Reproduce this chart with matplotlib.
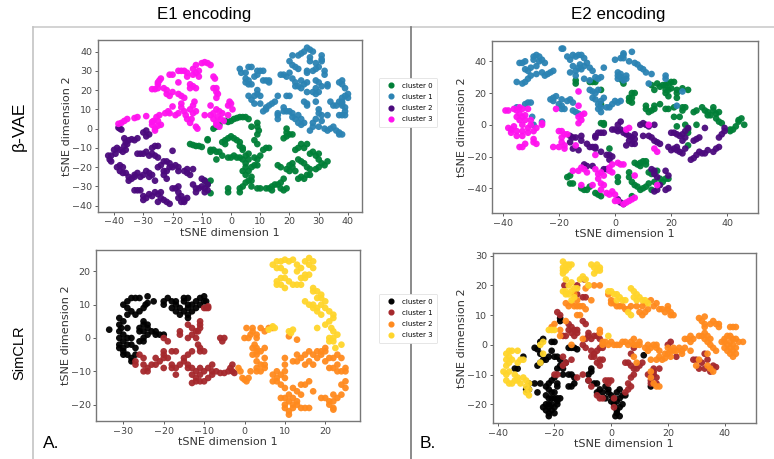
import matplotlib
matplotlib.use("Agg")
import matplotlib.pyplot as plt
from matplotlib.lines import Line2D

# Values, one list of (x, y) per cluster.
vae_e1_c0 = [(-6,0),(-5,1),(-4,2),(-2,4),(-1,3.5),(0,4),(1,5),(2,5.5),(3,6),(4,6),(5,6),(6,5),(7,1),(9,3),(9,1),(9.5,-1),(9,-3),(8,-6),(9,-8),(11,-11),(12,-10),(13,-10),(-14,-8),(-13,-8.5),(-12,-9),(-11,-9),(-10,-9.5),(-8,-6),(-8,-5.5),(-7,-11),(-7,-12),(-6,-11),(-5,-12),(-4,-12),(-3,-14),(-5,-16),(-2,-8),(-3,-7),(-2,-6),(-1,-5),(0,-4),(1,-5),(2,-6),(3,-7),(3,-9),(4,-10),(4,-11),(-1,-15),(0,-15),(1,-14),(2,-15),(3,-15),(4,-16),(5,-14),(6,-13),(6,-16),(5,-18),(5,-20),(4,-22),(5,-24),(6,-22),(7,-25),(6,-27),(7,-27),(5,-28),(4,-30),(3,-31),(3,-33),(8,-15),(9,-16),(10,-14),(9,-19),(8,-19),(7,-20),(7,-30),(9,-31),(10,-31),(-1,-31),(-1,-33),(12,-31),(13,-31),(14,-32),(14,-30),(15,-29),(16,-29),(17,-28),(18,-26),(17,-31),(18,-32),(19,-31),(16,-19),(17,-20),(19,-21),(20,-19),(20,-22),(21,-18),(21,-20),(22,-22),(23,-26),(24,-25),(25,-26),(26,-24),(27,-24),(23,-16),(24,-17),(25,-18),(26,-20),(27,-21),(22,-11),(23,-10),(24,-8),(25,-10),(26,-8),(27,-13),(28,-12),(29,-14),(30,-13),(30,-16),(31,-18),(30,-20),(29,-21),(32,-19),(33,-17),(19,-2),(19,0),(19,-4),(18,-5),(20,-3),(21,-3),(-9,-27),(-8,-28),(-7,-27),(-7,-33.5),(-8,-29)]
vae_e1_c1 = [(3,31),(3.5,29),(5,29),(5,26),(5,24),(6,23),(6,25),(7,23),(6,32),(7,32),(8,27),(9,30),(9,28),(10,30),(11,30),(11,25),(12,25),(13,24),(13,25),(9,20),(9,18),(8,17),(6,17),(7,15),(8,13),(10,13),(10,17),(12,10),(12,11),(13,12),(14,13),(15,14),(11,9),(16,5),(16,8),(16,7),(18,9),(18,11),(19,9),(20,9),(21,8),(21,6),(22,5),(23,7),(24,5),(23,3),(24,2),(25,3),(16,17),(19,17),(20,17),(17,28),(18,28),(19,27),(20,29),(21,26),(22,24),(22,22),(23,22),(24,21),(25,23),(26,24),(24,25),(20,35),(21,33),(22,32),(23,31),(21,38),(23,38),(24,39),(25,40),(26,42),(27,41),(28,40),(27,37),(27,35),(26,30),(26,29),(28,30),(29,31),(30,32),(29,34),(31,35),(31,38),(31,36),(32,30),(32,28),(33,23),(33,22),(31,22),(30,24),(29,25),(29,21),(30,19),(29,18),(28,19),(26,19),(25,14),(26,12),(26,13),(29,14),(30,10),(30,8),(31,7),(33,7),(31,4),(29,5),(28,3),(28,1),(27,-1),(30,1),(32,0),(33,-1),(34,0),(35,1),(36,-1),(37,-2),(38,-3),(37,-3),(34,14),(35,12),(36,12),(37,14),(38,14),(38,12),(39,11),(39,9),(39,7),(38,7),(37,7),(37,24),(38,25),(38,23),(39,21),(40,18),(39,17),(38,16),(40,16),(38,13)]
vae_e1_c2 = [(-38.5,0.5),(-37.5,-0.5),(-38,0),(-36.5,-5),(-36,-7),(-36.5,-9),(-35.5,-8),(-35,-6),(-36,-11),(-37,-12),(-38,-11),(-39,-10),(-40,-11),(-39.5,-13),(-41,-14),(-42,-14),(-41.5,-16),(-41,-17),(-38,-19),(-39,-20),(-38,-22),(-37,-20),(-37,-23),(-36,-23),(-35,-25),(-35,-27),(-34,-5.5),(-33,-6),(-32,-5),(-30,-2),(-29,-1),(-28,-3),(-29,-4),(-31,-13),(-32,-13),(-30,-13),(-29,-12),(-28,-14),(-27,-13),(-27,-10),(-26,-9),(-25,-9),(-26,-14),(-25,-15),(-20,-11.5),(-33,-25),(-34,-26),(-33,-24),(-32,-23),(-31,-25),(-30,-24),(-29,-22),(-28,-23),(-28,-25),(-27,-24),(-26,-27),(-25,-20),(-24,-19),(-23,-17),(-22,-17),(-21,-18),(-21,-20),(-22,-22),(-23,-22),(-23,-24),(-22,-26),(-20,-20),(-19,-19),(-18,-20),(-18,-22),(-16,-22),(-15,-21),(-15,-23),(-14,-24),(-13,-21),(-33,-32),(-32,-32),(-31,-32),(-30,-35),(-30,-37),(-29,-36),(-28,-34),(-27,-35),(-26,-33),(-25,-34),(-24,-33),(-24,-36),(-23,-37),(-22,-38),(-21,-39),(-25,-38),(-20,-31),(-19,-31),(-18,-30),(-18,-33),(-18,-36),(-17,-35),(-17,-38),(-16,-37),(-16,-38),(-15,-36),(-13,-29),(-12,-31),(-12,-33),(-11,-31),(-10,-30),(-10,-26),(-9,-27),(-8,-29),(-9,-31),(-8,-32),(-9,-33)]
vae_e1_c3 = [(-38.5,2.5),(-37.5,3),(-36.5,4),(-35.5,5),(-33,5.5),(-32,6),(-29,6.5),(-27,2),(-26.5,4),(-26,0),(-27,3.5),(-25.5,6),(-25,4),(-24.5,7),(-26,-1),(-25,1.5),(-24,2),(-22.5,8),(-21.5,9),(-21,8),(-20,11.5),(-19,7),(-18,8),(-17,11),(-17,13),(-16,9),(-15.5,7),(-15,5),(-14,3),(-14,10),(-13.5,5),(-13,12),(-13,8),(-12.5,14),(-12,9),(-12,1),(-11.5,0),(-9,7),(-7,12),(-6,8),(-7,7),(-6,5),(-5,3),(-5,10),(-4.5,6),(-4,9),(-3.5,5),(-3,8),(-2.5,4),(-1,7),(-0.5,14),(-1,12),(0,13),(0.5,10),(-5,2),(-4,1),(-27,20.5),(-26,20.5),(-25,21),(-25,24),(-24.5,25),(-25,23),(-24,26),(-23,21),(-22,20),(-22,18),(-21,17),(-20,19),(-21,28),(-20,28),(-18,18),(-17,17),(-18,24),(-18,30),(-17,30),(-16,16),(-16,30),(-15,29),(-15,27),(-14,23),(-14,21),(-13,22),(-12,21),(-13,28),(-13,31),(-12,33),(-12,29),(-11,30),(-11,27),(-10,34),(-9,34.5),(-8,34),(-7,33),(-6,27),(-5.5,26),(-6,21),(-5,21),(-5,19),(-4.5,18),(-5,16)]

vae_e2_c0 = [(-14,26),(-14,28),(-9,27),(-8,27),(-7,27),(-5,22),(-5,13),(2.5,28),(3,26),(5,15),(5,17),(6,17),(6,20),(7,20),(6,14),(13,25),(14,22),(15,26),(16,24),(17,25),(18,25),(19,26),(20,27),(21,27),(18,22),(18,20),(19,18),(19,22),(20,23),(22,22),(22,17),(22,20),(24,23),(26,22),(11,12),(11,10),(12,8),(13,9),(14,12),(14,10),(16,13),(18,10),(19,10),(21,11),(21,5),(23,5),(24,9),(24,11),(25,11),(28,8),(29,9),(31,11),(32,9),(33,8),(33,6),(34,6),(35,11),(35,9),(36,7),(36,4),(37,8),(37,2),(38,1),(41,-4),(41,-3),(42,-3),(43,-1),(44,2),(44,3),(45,4),(46,0),(-5,1),(-4,1),(-4,0),(-2,-15),(25,0),(22,-1),(26,-3),(26,-5),(29,0),(26,-13),(8,-25),(9,-26),(9,-24),(10,-23),(11,-25),(11,-23),(7,-24),(-17,-33),(-16,-32),(-16,-37),(-15,-37),(-12,-40),(-11,-41),(-10,-41),(-9,-39),(-7,-43),(-6,-44),(-5,-45),(1,-33),(1,-36),(5,-30),(5,-33),(6,-36),(7,-38),(8,-39),(9,-41),(10,-40),(11,-39),(12,-37),(12,-30),(13,-31),(14,-36),(13,-41),(16,-34),(17,-36),(18,-34),(19,-34),(6,-45),(15,-29)]
vae_e2_c1 = [(-35,27),(-34,39),(-33,39),(-32,40),(-32,35),(-31,34),(-32,27),(-33,26),(-31,29),(-30,31),(-30,36),(-29,43),(-28,44),(-28,37),(-28,32),(-27,40),(-26,41),(-25,39),(-24,32),(-25,31),(-23,33),(-22,34),(-29,41),(-27,43),(-26,33),(-19,48),(-18.5,48),(-17,43),(-16,41),(-15,44),(-14,43),(-13,44),(-12,44),(-11,42),(-16,33),(-14,34),(-15,37),(-14,31),(-13,36),(-12,35),(-11,37),(-10,39),(-9,36),(-8,34),(-11,29),(-9,28),(-7,30),(-6,29),(-5,30),(-4,36),(-12.5,38),(-23,16),(-22,17),(-21,18),(-22,15),(-20,13),(-19,12),(-19,10),(-19,16),(-18,10),(-17,15),(-16,16),(-15,14),(-15,9),(-14,8),(-13,7),(-9,22),(-8,21),(-8,17),(-7,20),(-7,16),(-6,22),(-6,13),(-5,11),(-5,8),(-5,15),(-4,17),(-6,10),(-3,11),(-2,11),(-1,13),(0,15),(1,14),(2,15),(-35,11),(-32,13),(-31,14),(-30,14),(-29.5,5),(-26,2),(-29,0),(0,41),(2,42),(3,42),(3,44),(3,45),(6,46),(5,40),(7,39),(8,38),(9,36),(10,35),(11,33),(13,32),(18,31),(18,29),(1,33),(1,31),(1,29),(2,32),(2,30),(4,31),(4,29),(3,28),(12,26),(24,21),(22,12)]
vae_e2_c2 = [(2,2),(1,0),(-1,-3),(0,-3),(1,-4),(2,-3),(3,-5),(4,-6),(5,-7),(5,-10),(6,-8),(7,-6),(7,-9),(6,-12),(4,-13),(7,-12),(9,0),(10,1),(11,0),(12,-1),(14,0),(10,-7),(12,-7),(13,-8),(14,-10),(15,-11),(16,-12),(-7,-7),(-7,-8),(-6,-5),(-5,-5),(-4,-5),(-16,-7),(-15,-8),(-14,-8),(-12,-10),(-12,-7),(-10,-12),(-9,-14),(-8,-14),(-7,-14),(-7,-15),(-5,-17),(-3,-19),(-2,-19),(-1,-20),(-2,-22),(-13,-16),(-16,-11),(-15,-15),(20,-5),(21,-5),(22,-6),(23,-7),(24,-6),(25,-4),(26,-2),(25,-8),(24,-10),(22,-14),(21,-15),(20,-16),(22,-16),(23,-17),(24,-18),(19,-14),(25,-15),(28,-10),(29,-9),(30,-8),(27,-22),(28,-21),(29,-19),(30,-17),(31,-18),(32,-18),(33,-16),(35,-17),(36,-15),(37,-14),(37,-8),(38,-6),(39,-4),(39,-2),(32,-2),(19,-32),(18,-29),(14,-29),(13,-28),(14,-31),(15,-33),(16,-38),(14,-42),(15,-41),(18,-41),(19,-40),(1,-47),(2,-49),(3,-50),(-8,-26),(-11,-25),(-10,-26),(-3,-28),(-4,-28)]
vae_e2_c3 = [(-39,9),(-38,9),(-36,10),(-35,9),(-34,11),(-33,10),(-34,7),(-35,5),(-34,3),(-33,5),(-31,10),(-32,6),(-32,3),(-30,3),(-30,0),(-31,-2),(-33,0),(-38,-2),(-37,-3),(-36,-1),(-35,-4),(-37,-5),(-35,-7),(-33,-4),(-33,-7),(-31,-5),(-29,-4),(-28,-2),(-26,1),(-26,0),(-29,-9),(-29,-11),(-28,-12),(-34,-14),(-33,-14),(-32,-12),(-21,10),(-13,12),(-13,21),(-13,1),(-12,3),(-13,5),(-12,6),(-11,7),(-20,-4),(-19,-4),(-18,-6),(-17,-6),(-19,-8),(-19,-11),(-18,-13),(-22,-14),(-20,-14),(-18,-15),(-14,-13),(-7,-19),(5,-2),(4,-3),(12,0),(14,-15),(15,-17),(-15,-29),(-13,-29),(-12,-27),(-11,-28),(-10,-30),(-7,-28),(-6,-31),(-5,-30),(-4,-32),(-6,-34),(-5,-37),(-4,-38),(-8,-38),(-12,-38),(-5,-41),(-3,-43),(-2,-44),(-1,-42),(0,-44),(0,-48),(1,-48),(3,-50),(4,-49),(5,-48),(6,-47),(7,-46),(-1,-25),(-2,-27),(-2,-29),(-1,-30),(1,-24),(2,-25),(3,-25),(7,-32),(15,-38)]

sim_e1_c0 = [(-33.5,2.5),(-31,4),(-31,6),(-30.5,3),(-31,2),(-31,0),(-31,-2),(-31,-3),(-30,-1),(-30,1),(-30,5),(-30,-3),(-29,0),(-29,-2),(-29,3),(-29,7),(-29,9),(-29,11),(-30,10),(-28,12),(-27,12),(-26,12),(-28,8),(-27,7),(-26,8),(-25,9),(-24.5,10),(-24,10.5),(-24,12.5),(-22.5,11),(-25,5),(-26,3),(-26,2),(-25,4),(-25,2),(-24,3),(-24,4),(-24,1),(-25,0),(-23,2),(-22,1),(-22,2),(-21,1),(-20,1),(-26,-1),(-25,-1),(-28,0),(-28,-2),(-30,-4),(-30,-5),(-28,-6),(-29,-5),(-28,-7),(-27,-5),(-27,-3),(-20,11),(-19,12),(-20,10),(-18,11),(-17,10),(-18,9),(-17,11),(-16,9),(-17,8),(-16,7),(-15,8),(-14,7),(-14,6),(-13,8),(-15,11),(-15,12),(-14,12),(-14,10),(-14,9),(-13,10),(-12,11),(-12,9),(-11,10),(-10,12.5),(-11,12),(-10,11),(-9.5,11)]
sim_e1_c1 = [(-9.5,9),(-9,9.5),(-9,9),(-10,9),(-14,4),(-13,3),(-13,1),(-12,2),(-12,0),(-11,4),(-11,3),(-11,5),(-11.5,2),(-14,0),(-16,2),(-16,1),(-19,-1),(-20,0),(-11.5,-2),(-11,-3),(-11,-4),(-10,-4),(-6,0),(-5.5,-1),(-5,0),(-27,-7),(-27,-8),(-26,-5),(-25,-6),(-25,-8),(-24,-9),(-25,-10),(-24,-10),(-23,-8),(-22,-8),(-22,-6),(-21,-7),(-20,-5),(-20,-4),(-20,-6),(-19,-6),(-20,-9),(-18,-8),(-18,-4),(-17,-4),(-18,-9),(-17,-9),(-17,-11),(-16,-8),(-15,-7),(-15,-6),(-14,-8),(-14,-5),(-14,-9),(-13,-9),(-13,-4),(-12,-10),(-13,-11),(-12,-13),(-13,-13.5),(-12,-12),(-11,-9),(-11,-11),(-11,-13),(-10,-10),(-10,-13),(-9,-9),(-8,-8),(-8,-10),(-9,-12),(-8,-11),(-7,-10),(-6,-10.5),(-5,-10.5),(-4,-10),(-3.5,-9),(-3,-8),(-3,-10),(-2.5,-10.5)]
sim_e1_c2 = [(-1.5,-9),(-1,-10),(-0.5,-12),(0,-12.5),(0.5,-13),(1,-12),(1.5,-10),(1,0),(0,0),(0.5,3),(1.5,1),(2,2),(2,3),(3,1),(4,3),(3,0),(2.5,-2),(3,-3),(3,-4),(2,-5),(2,-3),(3,-5),(3,-7),(4,-4),(5,-3),(5,-6),(4,-8),(4,-10),(5,-9),(5,-8),(3,-9),(3,-10),(5,2),(6,3),(7,3),(7,-13),(7,-11),(8,-12),(8,-10),(8,-13),(9,-11),(9,-14),(10,-6),(10,-8),(10,-10),(10,-12),(10,-15),(9,-18),(10,-18),(10,-20),(10,-21),(11,-19),(11,-22),(11,-17),(11,-23),(12,-15),(12,-18),(12,-20),(12,-21),(13,-16),(13,-19),(13,-20),(14,-14),(14,-17),(14,-21),(15,-14),(15,-21),(16,-13),(16,-21),(17,-16),(12,-7),(13,-7),(13,-5),(14,-6),(15,-5),(15,-8),(16,-4),(16,-7),(17,-5),(17,-8),(18,-6),(18,-4),(19,-5),(20,-3),(19,-4),(20,-4),(20,-7),(21,-6),(19,-18),(20,-18),(21,-9),(21,-19),(22,-6),(22,-9),(22,-17),(22,-19),(22,-21),(23,-5),(23,-8),(23,-10),(23,-18),(24,-6),(24,-10),(24,-14),(24,-17),(25,-9),(25,-10),(25,-13),(25,-15),(11,0.5),(13,-0.5),(22,-21.5),(21,-20)]
sim_e1_c3 = [(7,22),(8,23),(8,21),(9,23),(10,23.5),(9,21),(10,20),(10,18),(8,17),(8,16),(9,18),(9,16),(10,15),(11,23),(11,17),(12,23.5),(12,16),(13,22),(13,20),(13,16),(14,21),(14,18),(15,23),(15,18),(16,24),(16,22),(16,19),(17,23),(17,21),(14,16),(15,19),(17,15),(17,14),(18,14),(16,10),(15,11),(17,10),(17,9),(18,12),(18,9),(18,8),(19,13),(19,12),(19,10),(19,7),(20,11),(20,9),(20,4),(21,5),(21,8),(22,7),(22,6),(22,2),(21,0),(21,-1),(21.5,3),(22,0),(23,1),(22,-1),(22.5,-3),(24,-2),(18,3),(6,2.5),(7,3.5),(7.5,3),(11,2),(12,2.5),(11.5,1.5)]

sim_e2_c0 = [(-24,2),(-25,1),(-27,-1),(-26,-1.5),(-25,-3),(-24,-5),(-25,-6),(-26,-7),(-23,-5),(-22,-4),(-20,-4),(-21,1),(-20,1),(-21,-2),(-19,-4),(-18,-5),(-18,-7),(-19,-8),(-17,-8),(-16,-6),(-17,-10),(-15,-1),(-14,-1),(-13,-1),(-12,-1.5),(-18,9),(-18,8),(-34,-8),(-33,-8),(-31,-4),(-29,-13),(-30,-15),(-29,-15),(-27,-13),(-25,-13),(-26,-16),(-23,-14),(-22,-13),(-21,-12),(-20,-11),(-22,-15),(-21,-16),(-20,-16),(-19,-14),(-19,-13),(-23,-17),(-22,-18),(-21,-18),(-20,-18),(-19,-19),(-18,-18),(-24,-21),(-23,-20),(-23,-22),(-22,-20),(-22,-21),(-21,-20),(-21,-22),(-22,-23),(-22,-24),(-20,-21),(-20,-23),(-19,-20),(-19,-18),(-15,-10),(-14,-10),(-15,-14),(-14,-14),(-13,-13),(-13,-11),(-8,-10),(-7,-9),(-7,-8),(-8,-12),(-6,-13),(-5,-13),(-5,-16),(-4,-15),(-3,-16),(-2,-14),(-1,-15),(0,-17),(1,-18),(-2,-18),(-1,-16),(0,-19),(1,-20),(2,-19),(2,-16),(3,-15),(3,-18),(4,-17),(3,-21),(2,-23),(1.5,-24),(3,-24),(2,-22),(4,-20),(5,-17),(11.5,-3.5),(14,-14)]
sim_e2_c1 = [(-19,11),(-18,10),(-15,7),(-15,5),(-14,6),(-14,4),(-17,3),(-16,3),(-13,5),(-12,5),(-12,4),(-13,3),(-10,8),(-9,7),(-12,20),(-9.5,22),(-16.5,20),(-12,17),(-10,16),(-9,16),(-8,4),(-9,2),(-10,0),(-9,-1),(-8,3),(-7,2),(-6,3),(-5,3),(-4,2),(-3,0),(-3,-1),(-4,-1),(-5,-2),(-6,-3),(-7,-2),(-7,-4),(-6,-4),(-5,-6),(-4,-5),(-3,-5),(-4,-7),(-17,-7),(-16,-6),(-17,-4),(-19,-10),(-20,-10),(-14,-5),(-12,-11),(-8,-12),(-10,-10),(-7,-14),(-5,-17),(-4,-18),(-3,-18),(-2,-12),(-1,-12),(0,-12),(-1,-13),(5,-16),(6,-15),(6,-13),(7,-14),(7,-11),(8,-10),(8,-8),(9,-8),(10,-7),(11,-6),(8,-1),(7,-3),(6,-6),(5,-6),(7,-7),(13,-10),(14,-12),(15,-8),(15,-9),(15,-10),(14,-13),(16,-11),(17,-8),(16,-13),(1,-18),(1,-21),(21,1),(20,0),(23,-4),(29,-5),(30,-5),(31,-8),(33,-8),(35,-9),(37,-7.5),(36,-7),(34,-5),(33,-3),(32,-6)]
sim_e2_c2 = [(-20,7),(-21,6),(-18,3),(-18,5),(-16,8),(-15,13),(-16,14),(-14,14),(-13,13),(-12,13),(-11,13),(-10,13),(-9,12),(-12,10),(-11,10),(-14,0),(-10,2),(-4,5),(-4,4),(-3,1),(-3,0),(-2,1),(-1,0),(0,1),(1,0),(2,0),(3,0),(4,1),(5,1),(6,0),(7,1),(8,2),(8,0),(9,0),(10,1),(10,0),(12,-1),(13,0),(13,-2),(14,-1),(15,0),(16,0),(17,-2),(16,-1),(8,-4),(9,-6),(14,-5),(16,-5),(14,-9),(14,-11),(15,-13),(16,-14),(17,-14),(-13,17),(-12,15),(-9,19),(-8,20),(-6,20),(-4,20),(-7,15),(-1,17),(0,15),(0,14),(1,14),(2,13),(3,13),(4,13),(5,12),(6,12),(7,13),(9,13),(10,11),(11,10),(11,13),(12,11),(12,14),(13,12),(14,15),(15,13),(16,14),(17,12),(18,12),(19,11),(20,12),(21,11),(21,10),(22,10),(20,13),(17,-4),(19,-3),(20,-1),(21,-2),(22,-2),(22,-1),(23,-2),(24,-1),(25,-2),(25,-3),(26,-1),(20,-3),(19,-4.5),(21,-4),(26,2),(27,2),(28,3),(29,2),(28,1),(31,9),(32,8),(33,7),(33,9.5),(33,6),(31,3),(32,3),(33,4),(33,2),(34,3),(34,1),(35,7),(35,2),(35,0),(36,-1),(36,8),(37,7),(37,-2),(38,7),(38,6),(39,1),(40,1),(40,2),(40,-1),(41,3),(41,-2),(41,0),(42,3),(42,1),(42,-1),(42,-3),(43,2),(43,0),(43,-2),(43,-4),(44,2),(44,-1),(44,-3),(45,1),(46.5,1),(43,6),(42,6),(44,6),(30,-7),(34,-7),(35,-8),(36,-9),(18,-5),(28,-2),(31,-5),(34,-3)]
sim_e2_c3 = [(-37,-3),(-37,-5),(-36,-2),(-37,-7),(-38,-9),(-37,-10),(-36,-4),(-36,-6),(-36,-9),(-35,-2),(-35,-5),(-34,-10),(-34,-12),(-37,-12),(-36,-13),(-35,-13),(-33,-2),(-33,-6),(-32,-5),(-31,-5),(-33,-11),(-33,-12),(-32,-13),(-31,-11),(-30,-12),(-30,-14),(-29,-13),(-29,-15),(-29,-17),(-30,-16),(-25,0),(-24,1),(-24,-3),(-25,-6),(-20,5),(-21,5),(-22,5),(-17,28),(-17,26),(-16,27),(-17,25),(-16,25),(-15,27),(-15,26),(-14,27),(-17,24),(-16,22),(-7,27),(-6,26),(-6,24),(-5,27),(-5,25),(-4,26),(-4,25),(-15,20),(-14,21),(-13,19),(-12,19),(-14,18),(-16,18),(-17,18),(-16,17),(-15,17),(-13,16),(-14,15),(-11,22),(-10,23),(-9,22),(-8,20),(-1,18),(0,18),(1,17),(2,17),(2,15),(3,16),(4,15),(5,15),(7,19),(8,18),(9,17),(8,16),(9,15),(10,16),(11,15),(12,15),(13,14),(6,11),(7,10),(-1,3)]

vae_colors = ["#007f37", "#2b83b3", "#4b0a7d", "#ff12ee"]
sim_colors = ["#000000", "#a5282c", "#ff8a1e", "#ffd52b"]
cluster_names = ["cluster 0", "cluster 1", "cluster 2", "cluster 3"]

W, H = 774, 459
plt.rcParams["font.family"] = "DejaVu Sans"
fig = plt.figure(figsize=(W / 100, H / 100), dpi=100)


def add_panel(box, clusters, colors, xlim, ylim, xticks, yticks):
    """Add one scatter panel, box is (left, top, right, bottom) in pixels."""
    left, top, right, bottom = box
    ax = fig.add_axes([left / W, 1 - bottom / H, (right - left) / W, (bottom - top) / H])
    for points, color in zip(clusters, colors):
        xs = [p[0] for p in points]
        ys = [p[1] for p in points]
        ax.scatter(xs, ys, s=23, c=color, edgecolors="none", alpha=0.95)
    ax.set_xlim(xlim)
    ax.set_ylim(ylim)
    ax.set_xticks(xticks)
    ax.set_yticks(yticks)
    ax.tick_params(labelsize=6.8, length=2, width=0.6, pad=2, colors="#444444")
    ax.set_xlabel("tSNE dimension 1", fontsize=8.1, labelpad=1, color="#333333")
    ax.set_ylabel("tSNE dimension 2", fontsize=8.1, labelpad=0, color="#333333")
    for spine in ax.spines.values():
        spine.set_color("#777777")
        spine.set_linewidth(1.0)
    return ax


add_panel((97.7, 40, 362, 211.7), [vae_e1_c0, vae_e1_c1, vae_e1_c2, vae_e1_c3], vae_colors,
          (-45.6, 44.8), (-43.1, 46), range(-40, 41, 10), range(-40, 41, 10))
add_panel((492.3, 40.7, 758, 213), [vae_e2_c0, vae_e2_c1, vae_e2_c2, vae_e2_c3], vae_colors,
          (-43.7, 50.9), (-55.6, 53), range(-40, 41, 20), range(-40, 41, 20))
add_panel((96.3, 249.7, 360, 421.3), [sim_e1_c0, sim_e1_c1, sim_e1_c2, sim_e1_c3], sim_colors,
          (-36.7, 28.6), (-25, 26.5), range(-30, 21, 10), range(-20, 21, 10))
add_panel((492.7, 253.3, 755.7, 423.3), [sim_e2_c0, sim_e2_c1, sim_e2_c2, sim_e2_c3], sim_colors,
          (-41.8, 51), (-26.4, 30.8), range(-40, 41, 20), range(-20, 31, 10))

# Divider lines of the composed figure, drawn in pixel positions.
fig.add_artist(Line2D([33 / W, 1], [1 - 27 / H] * 2, color="#cccccc", lw=1.2))
fig.add_artist(Line2D([33 / W] * 2, [1 - 27 / H, 0], color="#c4c4c4", lw=1.2))
fig.add_artist(Line2D([411 / W] * 2, [1 - 27 / H, 0], color="#777777", lw=1.2))


def add_legend(colors, center_y):
    handles = [Line2D([], [], ls="", marker="o", ms=3.4, color=c) for c in colors]
    leg = fig.legend(handles, cluster_names, loc="center", bbox_to_anchor=(408 / W, 1 - center_y / H),
                     fontsize=5, frameon=True, framealpha=1, edgecolor="#e2e2e2",
                     labelspacing=0.75, handletextpad=0.6, borderpad=0.7)
    leg.get_frame().set_linewidth(0.6)
    leg.set_zorder(5)


add_legend(vae_colors, 102.5)
add_legend(sim_colors, 318.5)

# Panel annotations
title_font = ["Liberation Sans", "DejaVu Sans"]
fig.text(204 / W, 1 - 15 / H, "E1 encoding", ha="center", va="center", fontsize=12.2, family=title_font)
fig.text(618 / W, 1 - 15 / H, "E2 encoding", ha="center", va="center", fontsize=12.2, family=title_font)
fig.text(19 / W, 1 - 126 / H, "β-VAE", rotation=90, ha="center", va="center", fontsize=12.5, family=title_font)
fig.text(19 / W, 1 - 353 / H, "SimCLR", rotation=90, ha="center", va="center", fontsize=10.5, family=title_font)
fig.text(43 / W, 1 - 443 / H, "A.", ha="left", va="center", fontsize=12.5, family=title_font)
fig.text(420 / W, 1 - 443 / H, "B.", ha="left", va="center", fontsize=12.5, family=title_font)

fig.savefig("out.png", dpi=100)
